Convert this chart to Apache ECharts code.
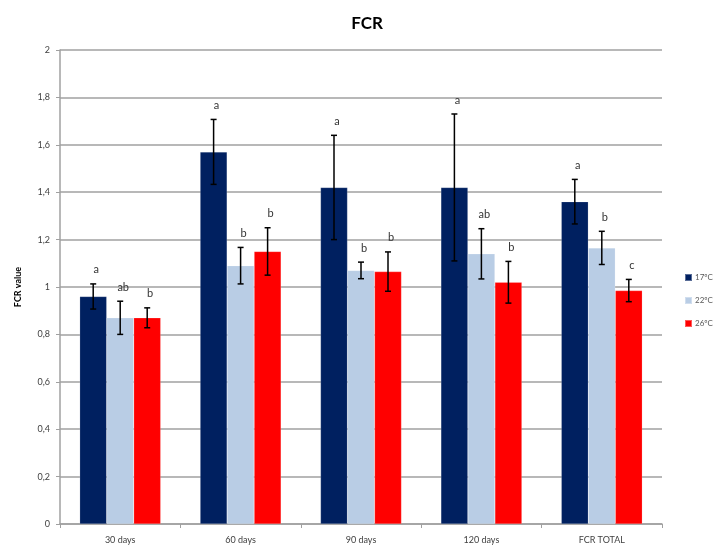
<!DOCTYPE html>
<html>
<head>
<meta charset="utf-8">
<script src="https://cdn.jsdelivr.net/npm/echarts@6/dist/echarts.min.js"></script>
<style>
html,body{margin:0;padding:0;background:#fff;}
#main{width:717px;height:552px;}
</style>
</head>
<body>
<div id="main"></div>
<script>
var categories = ['30 days', '60 days', '90 days', '120 days', 'FCR TOTAL'];
var seriesNames = ['17ºC', '22ºC', '26ºC'];
var mean17 = [0.96, 1.57, 1.42, 1.42, 1.36];
var mean22 = [0.87, 1.09, 1.07, 1.14, 1.165];
var mean26 = [0.87, 1.15, 1.065, 1.02, 0.985];
var err17 = [0.053, 0.137, 0.22, 0.31, 0.094];
var err22 = [0.07, 0.077, 0.035, 0.106, 0.07];
var err26 = [0.042, 0.10, 0.083, 0.088, 0.047];
var letters17 = ['a', 'a', 'a', 'a', 'a'];
var letters22 = ['ab', 'b', 'b', 'ab', 'b'];
var letters26 = ['b', 'b', 'b', 'b', 'c'];
var yTicks = [0, 0.2, 0.4, 0.6, 0.8, 1, 1.2, 1.4, 1.6, 1.8, 2];

var colors = ['#002060', '#B9CDE5', '#FF0000'];
var means = [mean17, mean22, mean26];
var errs = [err17, err22, err26];
var letters = [letters17, letters22, letters26];
var BAR_W = 27;
var FONT = 'Lato, "Liberation Sans", sans-serif';

var chart = echarts.init(document.getElementById('main'));

function errSeries(k) {
  var data = categories.map(function (c, i) {
    return [i, means[k][i], errs[k][i], letters[k][i]];
  });
  return {
    type: 'custom',
    z: 10,
    data: data,
    encode: { x: 0, y: [1] },
    renderItem: function (params, api) {
      var i = api.value(0);
      var m = api.value(1);
      var e = api.value(2);
      var letter = data[params.dataIndex][3];
      var off = (k - 1) * BAR_W;
      var top = api.coord([i, m + e]);
      var bot = api.coord([i, m - e]);
      var x = top[0] + off;
      var cap = 3;
      var st = { stroke: '#000', lineWidth: 1.5 };
      return {
        type: 'group',
        children: [
          { type: 'line', shape: { x1: x, y1: top[1], x2: x, y2: bot[1] }, style: st },
          { type: 'line', shape: { x1: x - cap, y1: top[1], x2: x + cap, y2: top[1] }, style: st },
          { type: 'line', shape: { x1: x - cap, y1: bot[1], x2: x + cap, y2: bot[1] }, style: st },
          { type: 'text', x: x + 3, y: top[1] - 14,
            style: { text: letter, fill: '#333', fontSize: 11, fontFamily: FONT,
                     align: 'center', verticalAlign: 'middle' } }
        ]
      };
    }
  };
}

var series = [];
for (var k = 0; k < 3; k++) {
  series.push({
    name: seriesNames[k],
    type: 'bar',
    data: means[k],
    barWidth: BAR_W,
    barGap: '0%',
    itemStyle: { color: colors[k], borderColor: 'rgba(255,255,255,0.35)', borderWidth: 0.5 }
  });
}
for (var k2 = 0; k2 < 3; k2++) series.push(errSeries(k2));

chart.setOption({
  animation: false,
  backgroundColor: '#fff',
  textStyle: { fontFamily: FONT },
  title: {
    text: 'FCR',
    left: 362, top: 10, textAlign: 'center',
    textStyle: { fontSize: 17, fontWeight: 'bold', color: '#000', fontFamily: FONT }
  },
  legend: {
    data: seriesNames,
    orient: 'vertical',
    left: 679, top: 268,
    itemWidth: 7, itemHeight: 7, itemGap: 14,
    icon: 'rect',
    textStyle: { fontSize: 8, color: '#595959', fontFamily: FONT, padding: [0, 0, 0, -2] }
  },
  grid: { left: 60, right: 55, top: 50, bottom: 28, containLabel: false },
  xAxis: {
    type: 'category',
    data: categories,
    axisLine: { lineStyle: { color: '#a0a0a0', width: 1.5 } },
    axisTick: { show: true, length: 4, lineStyle: { color: '#a0a0a0' } },
    axisLabel: { fontSize: 9, color: '#404040', margin: 12, fontFamily: FONT }
  },
  yAxis: {
    type: 'value',
    min: 0, max: 2, interval: 0.2,
    name: 'FCR value',
    nameLocation: 'middle',
    nameRotate: 90,
    nameGap: 37,
    nameTextStyle: { fontSize: 9, fontWeight: 'bold', color: '#000', fontFamily: FONT },
    axisLine: { show: true, lineStyle: { color: '#a0a0a0', width: 1.5 } },
    axisTick: { show: true, length: 4, lineStyle: { color: '#a0a0a0' } },
    splitLine: { lineStyle: { color: '#a0a0a0', width: 1.6 } },
    axisLabel: {
      fontSize: 9, color: '#404040', margin: 10, fontFamily: FONT,
      formatter: function (v) {
        var r = Math.round(v * 10) / 10;
        for (var t = 0; t < yTicks.length; t++) if (Math.abs(yTicks[t] - r) < 1e-9) r = yTicks[t];
        return String(r).replace('.', ',');
      }
    }
  },
  series: series
});
</script>
</body>
</html>
